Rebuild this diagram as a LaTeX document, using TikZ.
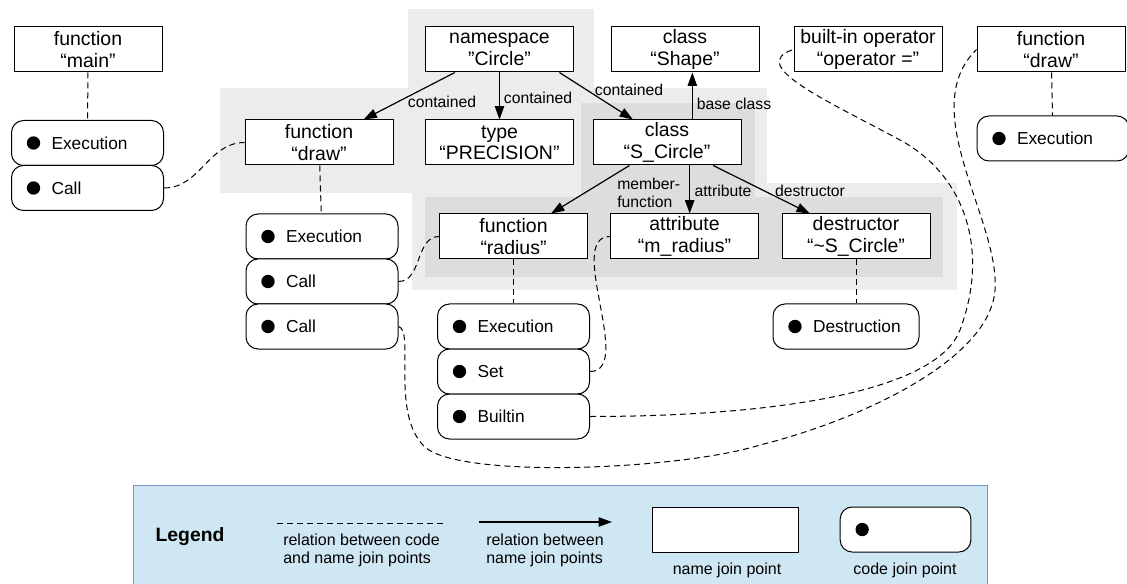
\documentclass[tikz,border=0pt]{standalone}
\usepackage{fontspec}
\setmainfont{Liberation Sans}
\usetikzlibrary{arrows.meta}

\definecolor{grpL}{RGB}{236,236,236}
\definecolor{grpD}{RGB}{221,221,221}
\definecolor{legfill}{RGB}{207,230,243}
\definecolor{legline}{RGB}{120,150,200}

\tikzset{
	namebox/.style={draw, fill=white, line width=0.75pt, minimum width=111pt, minimum height=33.75pt,
		inner sep=1pt, align=center, font=\fontsize{14.6}{16}\selectfont},
	codebox/.style={draw, fill=white, line width=0.75pt, rounded corners=9pt, minimum height=33.75pt,
		text width=94pt, inner xsep=10pt, inner ysep=0pt, align=left,
		font=\fontsize{13}{15}\selectfont, execute at begin node={\hspace*{20pt}},
		path picture={\fill[black] ([xshift=16.5pt]path picture bounding box.west) circle (5pt);}},
	rel/.style={-{Triangle[length=10pt,width=7pt]}, line width=0.9pt},
	link/.style={dash pattern=on 4.5pt off 3pt, line width=0.75pt},
	lbl/.style={inner sep=0pt, font=\fontsize{11.8}{13}\selectfont},
	legtext/.style={inner sep=0pt, align=left, font=\fontsize{12}{13.5}\selectfont}
}

\begin{document}
\begin{tikzpicture}[x=0.75pt,y=-0.75pt]
	\useasboundingbox (0,0) rectangle (1127,584);

	% groups
	\fill[grpL] (408,9) rectangle (594,88);
	\fill[grpL] (220,88) rectangle (767,193);
	\fill[grpL] (412,183) rectangle (957,290);
	\fill[grpD] (581,103) rectangle (755,197);
	\fill[grpD] (425,197) rectangle (943,277);

	% name join points
	\node[namebox] (main) at (88,49.5) {function\\“main”};
	\node[namebox] (namespace) at (499.5,49.5) {namespace\\”Circle”};
	\node[namebox] (shape) at (685,49.5) {class\\“Shape”};
	\node[namebox] (operator) at (868,49.5) {built-in operator\\“operator =”};
	\node[namebox] (drawr) at (1051,49.5) {function\\“draw”};
	\node[namebox] (drawm) at (319,142.5) {function\\“draw”};
	\node[namebox] (type) at (499.5,142.5) {type\\“PRECISION”};
	\node[namebox] (sclass) at (667,142.5) {class\\“S\_Circle”};
	\node[namebox] (radius) at (513.5,236.5) {function\\“radius”};
	\node[namebox] (mattr) at (684.5,236.5) {attribute\\“m\_radius”};
	\node[namebox] (dtor) at (856,236.5) {destructor\\“\textasciitilde S\_Circle”};

	% code join points
	\node[codebox] (mexec) at (87.5,143) {Execution};
	\node[codebox] (mcall) at (87.5,188) {Call};
	\node[codebox] (dexec) at (322,236.5) {Execution};
	\node[codebox] (dcall) at (322,281.5) {Call};
	\node[codebox] (dcalltwo) at (322,326.5) {Call};
	\node[codebox] (rexec) at (513.5,326.5) {Execution};
	\node[codebox] (rset) at (513.5,371.5) {Set};
	\node[codebox] (rbuiltin) at (513.5,416.5) {Builtin};
	\node[codebox, text width=89.5pt] (destr) at (846,326.5) {Destruction};
	\node[codebox] (drexec) at (1053,138.5) {Execution};

	% relations between name join points
	\draw[rel] (namespace) -- (drawm);
	\draw[rel] (namespace) -- (type);
	\draw[rel] (namespace.-21) -- (sclass.146);
	\draw[rel] ([xshift=19pt]sclass.north) -- ([xshift=19pt]sclass.north |- shape.south);
	\draw[rel] (sclass) -- (radius);
	\draw[rel] ([xshift=17pt]sclass.south) -- ([xshift=17pt]sclass.south |- mattr.north);
	\draw[rel] (sclass) -- (dtor);
	\node[lbl] (lcont1) at (442,102) {contained};
	\node[lbl] (lcont2) at (538,98) {contained};
	\node[lbl] (lcont3) at (629,90) {contained};
	\node[lbl] (lbase) at (734,104) {base class};
	\node[lbl, anchor=west, align=left] (lmember) at (617,193) {member-\\function};
	\node[lbl] (lattr) at (723,191) {attribute};
	\node[lbl] (ldtor) at (810,191) {destructor};

	% relations between code and name join points
	\draw[link] (main) -- (mexec);
	\draw[link] (drawm) -- (dexec);
	\draw[link] (radius) -- (rexec);
	\draw[link] (dtor.south) -- (dtor.south |- destr.north);
	\draw[link] (drawr) -- (drexec);
	\draw[link] (mcall.east) to[out=0,in=180] (drawm.west);
	\draw[link] (dcall.east) to[out=0,in=180] (radius.west);
	\draw[link] (rset.east) .. controls +(45,0) and +(-45,0) .. (mattr.west);
	\draw[link] (dcalltwo.east) .. controls (415,330) and (390,415) .. (425,447)
		.. controls (460,479) and (680,470) .. (760,445)
		.. controls (860,420) and (990,360) .. (995,290)
		.. controls (1000,220) and (915,110) .. (drawr.west);
	\draw[link] (rbuiltin.east) .. controls (760,416.5) and (935,395) .. (960,330)
		.. controls (990,250) and (965,175) .. (900,140)
		.. controls (830,102) and (745,65) .. (operator.west);

	% legend
	\filldraw[fill=legfill, draw=legline, line width=0.75pt] (133,485) rectangle (987,590);
	\node[font=\bfseries\fontsize{14.5}{16}\selectfont] (legtitle) at (190,537) {Legend};
	\coordinate (dashA) at (277,523);
	\coordinate (dashB) at (443,523);
	\draw[link] (dashA) -- (dashB);
	\node[legtext, anchor=west] (legdash) at (283,550) {relation between code\\and name join points};
	\coordinate (arrA) at (479,522);
	\coordinate (arrB) at (612,522);
	\draw[rel] (arrA) -- (arrB);
	\node[legtext, anchor=west] (legarrow) at (486,550) {relation between\\name join points};
	\node[namebox, minimum width=110pt] (legname) at (725.5,529.5) {};
	\node[legtext] (legnametxt) at (727,570) {name join point};
	\node[codebox, text width=78pt] (legcode) at (905.5,529.5) {};
	\node[legtext] (legcodetxt) at (905,570) {code join point};
\end{tikzpicture}
\end{document}
